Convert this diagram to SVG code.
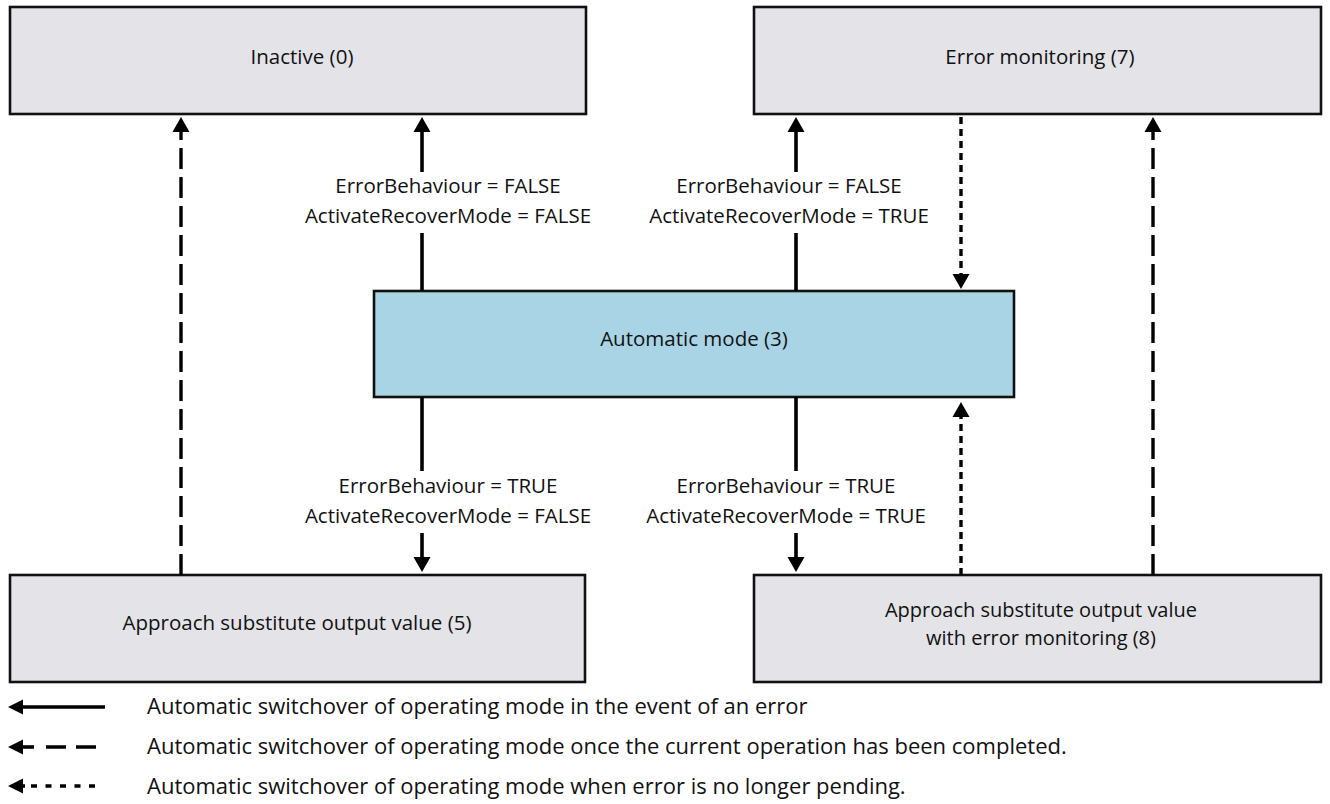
<svg xmlns="http://www.w3.org/2000/svg" width="1330" height="804" viewBox="0 0 1330 804">
  <style>
    .box { fill: #e3e3e8; stroke: #111; stroke-width: 2.6; }
    .auto { fill: #a8d4e6; stroke: #111; stroke-width: 2.6; }
    .t { font-family: "Open Sans", "Liberation Sans", sans-serif; font-size: 20.5px; fill: #111; text-anchor: middle; }
    .lg { font-family: "Open Sans", "Liberation Sans", sans-serif; font-size: 22px; fill: #111; }
    .solid { stroke: #000; stroke-width: 3.6; fill: none; }
    .dash { stroke: #000; stroke-width: 3.4; fill: none; stroke-dasharray: 21 8; }
    .dot { stroke: #000; stroke-width: 3.4; fill: none; stroke-dasharray: 7 5; }
  </style>
  <defs>
    <marker id="ah" markerUnits="userSpaceOnUse" markerWidth="16" markerHeight="18" refX="0" refY="8.5" orient="auto" overflow="visible">
      <path d="M0,0 L15,8.5 L0,17 z" fill="#000"/>
    </marker>
    <marker id="lh" markerUnits="userSpaceOnUse" markerWidth="16" markerHeight="16" refX="0" refY="7.5" orient="auto" overflow="visible">
      <path d="M0,0 L15,7.5 L0,15 z" fill="#000"/>
    </marker>
  </defs>

  <rect width="1330" height="804" fill="#fff"/>

  <!-- state boxes -->
  <g id="inactive">
    <rect class="box" x="10" y="7" width="576" height="107"/>
    <text class="t" x="302" y="64">Inactive (0)</text>
  </g>
  <g id="error-monitoring">
    <rect class="box" x="754" y="7" width="567" height="107"/>
    <text class="t" x="1040" y="64">Error monitoring (7)</text>
  </g>
  <g id="automatic-mode">
    <rect class="auto" x="374" y="291" width="640" height="106"/>
    <text class="t" x="694" y="346">Automatic mode (3)</text>
  </g>
  <g id="substitute-value">
    <rect class="box" x="10" y="575" width="575" height="107"/>
    <text class="t" x="297" y="630">Approach substitute output value (5)</text>
  </g>
  <g id="substitute-value-monitoring">
    <rect class="box" x="754" y="575" width="567" height="107"/>
    <text class="t" x="1041" y="617" style="font-size:20px">Approach substitute output value</text>
    <text class="t" x="1041" y="645" style="font-size:20px">with error monitoring (8)</text>
  </g>

  <!-- transitions -->
  <g id="connectors">
    <!-- 5 -> 0 once operation completed -->
    <path class="dash" d="M181,575 V132" marker-end="url(#ah)"/>
    <!-- 3 -> 0 -->
    <path class="solid" d="M422,291 V233"/>
    <path class="solid" d="M422,172 V132" marker-end="url(#ah)"/>
    <!-- 3 -> 7 -->
    <path class="solid" d="M796,291 V233"/>
    <path class="solid" d="M796,172 V132" marker-end="url(#ah)"/>
    <!-- 7 -> 3 when error gone -->
    <path class="dot" d="M961,117 V274" marker-end="url(#ah)"/>
    <!-- 8 -> 7 once operation completed -->
    <path class="dash" d="M1153,575 V132" marker-end="url(#ah)"/>
    <!-- 3 -> 5 -->
    <path class="solid" d="M422,397 V471"/>
    <path class="solid" d="M422,533 V557" marker-end="url(#ah)"/>
    <!-- 3 -> 8 -->
    <path class="solid" d="M796,397 V471"/>
    <path class="solid" d="M796,533 V557" marker-end="url(#ah)"/>
    <!-- 8 -> 3 when error gone -->
    <path class="dot" d="M961,575 V417" marker-end="url(#ah)"/>

    <text class="t" x="448" y="193">ErrorBehaviour = FALSE</text>
    <text class="t" x="448" y="223">ActivateRecoverMode = FALSE</text>
    <text class="t" x="789" y="193">ErrorBehaviour = FALSE</text>
    <text class="t" x="789" y="223">ActivateRecoverMode = TRUE</text>
    <text class="t" x="448" y="493">ErrorBehaviour = TRUE</text>
    <text class="t" x="448" y="523">ActivateRecoverMode = FALSE</text>
    <text class="t" x="786" y="493">ErrorBehaviour = TRUE</text>
    <text class="t" x="786" y="523">ActivateRecoverMode = TRUE</text>
  </g>

  <!-- legend -->
  <g id="legend">
    <path class="solid" d="M105,707 H23" marker-end="url(#lh)"/>
    <path class="solid" d="M34,747 H23" marker-end="url(#lh)"/>
    <path class="dash" d="M46,747 H96" style="stroke-dasharray: 20 10"/>
    <path class="dot" d="M31,786 H101" style="stroke-dasharray: 6 8.5"/>
    <path class="solid" d="M25,786 H23" marker-end="url(#lh)"/>
    <text class="lg" x="147" y="714">Automatic switchover of operating mode in the event of an error</text>
    <text class="lg" x="147" y="754">Automatic switchover of operating mode once the current operation has been completed.</text>
    <text class="lg" x="147" y="794">Automatic switchover of operating mode when error is no longer pending.</text>
  </g>
</svg>
